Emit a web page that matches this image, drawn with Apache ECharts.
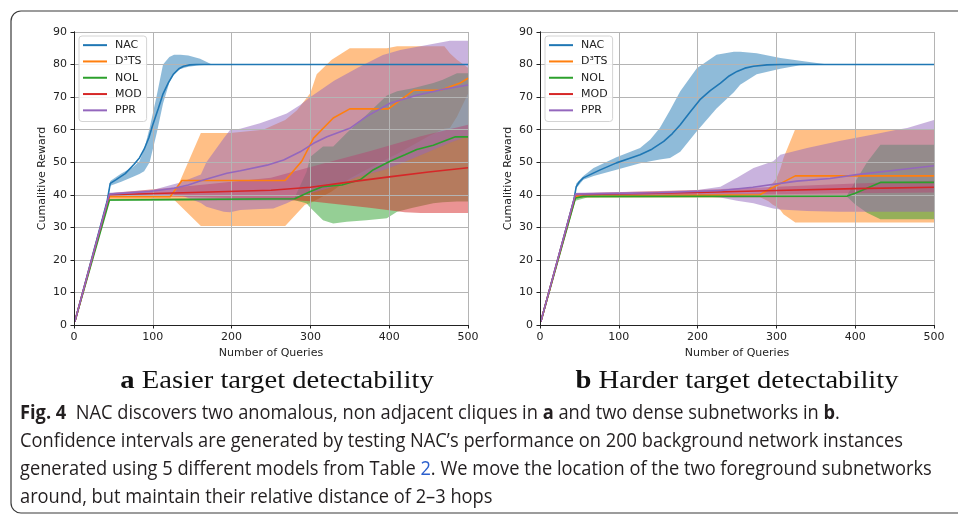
<!DOCTYPE html>
<html>
<head>
<meta charset="utf-8">
<script src="https://cdn.jsdelivr.net/npm/echarts@6.0.0/dist/echarts.min.js"></script>
<style>
  html, body { margin: 0; padding: 0; background: #ffffff; }
  #chart { width: 958px; height: 515px; }
</style>
</head>
<body>
<div id="chart"></div>
<script>
// ---- Series labels, colours and axis ticks ----
const seriesNames = ['NAC', 'D³TS', 'NOL', 'MOD', 'PPR'];
const seriesColors = ['#1f77b4', '#ff7f0e', '#2ca02c', '#d62728', '#9467bd'];
const xTickValues = [0, 100, 200, 300, 400, 500];
const yTickValues = [0, 10, 20, 30, 40, 50, 60, 70, 80, 90];
const xAxisTitle = 'Number of Queries';
const yAxisTitle = 'Cumalitive Reward';

// ---- Panel a: easier target detectability ----
// mean curves: [queries, reward]
const nacEasy = [[1,1],[42,38],[46,43.5],[53,44.6],[65,46.5],[76,49.3],[83,51.3],[89,54],[95,57.5],[100,61.5],[107,66.5],[113,71],[120,74.5],[126,77],[133,78.7],[139,79.5],[147,79.9],[155,80],[500,80]];
const d3tsEasy = [[1,1],[45,39.4],[122,39.4],[137,44.4],[268,44.4],[289,50.3],[304,57.4],[329,63.6],[350,66.4],[399,66.4],[431,72.1],[465,72.1],[490,74.3],[500,75.8]];
const nolEasy = [[1,1],[45,38.4],[280,38.8],[300,41],[315,42.5],[340,43],[363,44.6],[380,47.7],[401,50.3],[420,52.3],[435,53.9],[456,55.2],[470,56.5],[484,57.8],[500,57.8]];
const modEasy = [[1,1],[45,40],[150,40.7],[250,41.4],[300,42.3],[346,43.8],[400,45.5],[450,47],[500,48.3]];
const pprEasy = [[1,1],[45,40.2],[96,41],[127,42],[145,43],[161,44.3],[194,46.6],[211,47.4],[245,49.1],[266,50.7],[287,53.2],[304,55.8],[321,57.8],[350,60.4],[371,64],[401,68.1],[435,70.6],[469,72.4],[500,73.7]];
// confidence bands: [queries, lower, upper]
const nacEasyBand = [[1,1,1],[42,38,38.5],[46,42.8,44.2],[60,44,46.5],[75,45.5,48.5],[83,46.4,50.3],[89,47.2,54],[96,50,60.5],[105,59,70.5],[113,68,80],[121,74.5,82.3],[127,77,83],[135,78.6,83],[145,79.3,82.8],[160,79.8,81.8],[175,80,80],[500,80,80]];
const d3tsEasyBand = [[1,1,1],[45,38.6,39.6],[127,38.5,40],[161,30.4,59],[198,30.4,59],[240,30.4,60],[268,30.4,63],[283,34.3,66],[293,36.9,69],[300,37.5,71.3],[308,38.5,77],[327,41,81.5],[350,45,85],[397,51,85],[410,52.5,85.6],[450,58,85.6],[470,60.3,85.6],[477,60.5,83.5],[486,64,81.5],[500,71,79]];
const nolEasyBand = [[1,1,1],[45,38.1,38.7],[280,38.3,39.2],[295,37.4,47],[300,36,51.7],[316,32.2,54.8],[329,31.2,54.8],[346,31.7,59],[371,32.2,64.5],[397,32.8,70.5],[410,34.8,71.8],[430,36,72.7],[456,37.4,74.3],[468,37.7,75.3],[486,37.9,77.3],[500,37.9,77.3]];
const modEasyBand = [[1,1,1],[45,39.6,40.5],[150,39.3,42.8],[250,38.7,45.2],[300,38,48.5],[375,36,53.4],[420,34.6,56.5],[440,34.4,58],[500,34.4,61.5]];
const pprEasyBand = [[1,1,1],[45,39.8,40.6],[100,40,41.5],[123,39.9,43],[135,39.9,43.8],[161,37.5,46.2],[168,36.3,50],[190,34.8,57.4],[198,34.6,59.9],[211,35.3,60.3],[236,35.6,62],[253,35.8,63.4],[270,37.4,65],[287,39.4,67.6],[300,40.5,70],[330,42.5,75],[360,45.5,79],[392,47.5,82.9],[414,49.5,84.5],[448,53,86],[477,56,87.3],[500,58,87.3]];

// ---- Panel b: harder target detectability ----
const nacHard = [[1,1],[43,38.5],[46,42.5],[50,44],[55,45.2],[75,47.5],[97,49.8],[115,51.3],[127,52.3],[142,54],[157,56.4],[168,58.8],[178,61.5],[190,65.3],[203,69.2],[216,72],[229,74.3],[240,76.5],[250,77.9],[260,78.9],[271,79.5],[288,79.9],[305,80],[500,80]];
const d3tsHard = [[1,1],[45,39.5],[279,40],[300,42.8],[324,45.8],[500,45.8]];
const nolHard = [[1,1],[45,39],[55,39.5],[390,39.6],[400,40.5],[432,43.8],[500,43.8]];
const modHard = [[1,1],[45,40],[200,40.7],[300,41.3],[400,41.9],[500,42.3]];
const pprHard = [[1,1],[45,40.2],[150,40.6],[230,41.3],[270,42.3],[305,43.5],[326,44.2],[368,45],[402,46.2],[453,47.6],[500,48.9]];
const nacHardBand = [[1,1,1],[43,38.5,38.5],[46,42,43.5],[55,44.6,45.8],[68,45.8,48.2],[97,47.7,51.5],[127,49.7,54.4],[140,50.3,57],[152,50.8,60.5],[165,51.3,66],[178,53.2,71.8],[199,59.5,78.9],[224,66.5,83],[246,71.5,83.9],[254,73.8,83.9],[275,77,83.5],[305,78.7,82],[330,79.8,81.2],[356,80,80.3],[365,80,80],[500,80,80]];
const d3tsHardBand = [[1,1,1],[45,39.2,39.9],[280,39.2,40.5],[290,38,42],[295,37,43.5],[300,36.3,45],[305,35.3,48],[309,34,51.3],[324,31.5,60.2],[500,31.5,60.2]];
const nolHardBand = [[1,1,1],[45,38.2,39.3],[60,39.2,39.8],[390,39.3,40],[400,37,44],[415,34.5,50],[432,32.5,55.4],[500,32.5,55.4]];
const modHardBand = [[1,1,1],[45,39.6,40.5],[200,39.9,41.5],[300,40.2,42.5],[400,40.5,43.5],[500,40.7,44.3]];
const pprHardBand = [[1,1,1],[45,39.8,40.6],[150,39.8,41],[200,39.6,41.5],[229,39.2,42.5],[250,38.2,45.2],[271,37.4,48.2],[296,35.8,50.3],[305,35.5,52.3],[339,35,54.4],[380,34.8,56.5],[423,34.8,58.5],[453,34.8,60],[466,34.8,60.5],[500,34.8,63]];

// ---- Subtitles and caption ----
const panelTitles = [['a', 'Easier target detectability'], ['b', 'Harder target detectability']];
const captionLines = [
  '{b|Fig. 4}  NAC discovers two anomalous, non adjacent cliques in {b|a} and two dense subnetworks in {b|b}.',
  'Confidence intervals are generated by testing NAC’s performance on 200 background network instances',
  'generated using 5 different models from Table {l|2}. We move the location of the two foreground subnetworks',
  'around, but maintain their relative distance of 2–3 hops'
];

const panels = [
  { means: [nacEasy, d3tsEasy, nolEasy, modEasy, pprEasy],
    bands: [nacEasyBand, d3tsEasyBand, nolEasyBand, modEasyBand, pprEasyBand] },
  { means: [nacHard, d3tsHard, nolHard, modHard, pprHard],
    bands: [nacHardBand, d3tsHardBand, nolHardBand, modHardBand, pprHardBand] }
];

// ---- Layout ----
const gridBoxes = [
  { left: 74, top: 32, width: 394, height: 293 },
  { left: 540, top: 32, width: 394, height: 293 }
];
const tickFont = 'DejaVu Sans';
const ink = '#222222';

function withAlpha(hex, a) {
  const n = parseInt(hex.slice(1), 16);
  return 'rgba(' + (n >> 16) + ',' + ((n >> 8) & 255) + ',' + (n & 255) + ',' + a + ')';
}

// Filled band between lower and upper curves, placed with the axis scales
function bandSeries(rows, color, axisIdx) {
  return {
    type: 'custom',
    xAxisIndex: axisIdx, yAxisIndex: axisIdx,
    z: 1, silent: true, clip: true,
    data: rows,
    encode: { x: 0, y: [1, 2] },
    renderItem: function (params, api) {
      if (params.dataIndex !== 0) return null;
      const upper = rows.map(r => api.coord([r[0], r[2]]));
      const lower = rows.map(r => api.coord([r[0], r[1]])).reverse();
      return {
        type: 'polygon',
        shape: { points: upper.concat(lower) },
        style: { fill: withAlpha(color, 0.5), stroke: null }
      };
    }
  };
}

function lineSeries(points, name, color, axisIdx) {
  return {
    type: 'line', name: name,
    xAxisIndex: axisIdx, yAxisIndex: axisIdx,
    data: points, showSymbol: false, symbol: 'none',
    z: 3, silent: true,
    lineStyle: { width: 1.6, color: color },
    itemStyle: { color: color }
  };
}

const xAxes = [], yAxes = [], series = [], legends = [];
gridBoxes.forEach((g, gi) => {
  const axisLine = { show: true, lineStyle: { color: ink, width: 1 } };
  xAxes.push({
    type: 'value', gridIndex: gi, position: 'bottom', z: 2,
    min: xTickValues[0], max: xTickValues[xTickValues.length - 1],
    interval: xTickValues[1] - xTickValues[0],
    name: xAxisTitle, nameLocation: 'middle', nameGap: 21,
    nameTextStyle: { fontFamily: tickFont, fontSize: 11, color: ink },
    axisLine: axisLine,
    axisTick: { show: true, length: 3.5, lineStyle: { color: ink } },
    axisLabel: { fontFamily: tickFont, fontSize: 11, color: ink, margin: 7 },
    splitLine: { show: true, lineStyle: { color: '#b4b4b4', width: 1 } }
  });
  xAxes.push({
    type: 'value', gridIndex: gi, position: 'top', z: 4,
    min: xTickValues[0], max: xTickValues[xTickValues.length - 1],
    axisLine: axisLine, axisTick: { show: false }, axisLabel: { show: false }, splitLine: { show: false }
  });
  yAxes.push({
    type: 'value', gridIndex: gi, position: 'left', z: 2,
    min: yTickValues[0], max: yTickValues[yTickValues.length - 1],
    interval: yTickValues[1] - yTickValues[0],
    name: yAxisTitle, nameLocation: 'middle', nameGap: 26,
    nameTextStyle: { fontFamily: tickFont, fontSize: 11, color: ink },
    axisLine: axisLine,
    axisTick: { show: true, length: 3.5, lineStyle: { color: ink } },
    axisLabel: { fontFamily: tickFont, fontSize: 11, color: ink, margin: 7 },
    splitLine: { show: true, lineStyle: { color: '#b4b4b4', width: 1 } }
  });
  yAxes.push({
    type: 'value', gridIndex: gi, position: 'right', z: 4,
    min: yTickValues[0], max: yTickValues[yTickValues.length - 1],
    axisLine: axisLine, axisTick: { show: false }, axisLabel: { show: false }, splitLine: { show: false }
  });

  const axisIdx = gi * 2;
  panels[gi].bands.forEach((b, i) => series.push(bandSeries(b, seriesColors[i], axisIdx)));
  panels[gi].means.forEach((m, i) => series.push(lineSeries(m, seriesNames[i], seriesColors[i], axisIdx)));

  legends.push({
    left: g.left + 5, top: 36, orient: 'vertical',
    data: seriesNames, icon: 'rect', itemWidth: 24, itemHeight: 2, itemGap: 0,
    padding: [1, 5, 3, 4],
    backgroundColor: 'rgba(255,255,255,0.85)',
    borderColor: '#d4d4d4', borderWidth: 1, borderRadius: 3,
    selectedMode: false,
    textStyle: { fontFamily: tickFont, fontSize: 11, color: ink, lineHeight: 16.3, padding: [0, 0, 0, 3] }
  });
});

// ---- Text fitting helpers for the caption block ----
const measureCtx = document.createElement('canvas').getContext('2d');
function textWidth(str, font) { measureCtx.font = font; return measureCtx.measureText(str).width; }
const captionFamily = '"Open Sans", "Noto Sans", sans-serif';
const captionSize = 20;
const captionScale = 883 / textWidth(captionLines[1], captionSize + 'px ' + captionFamily);
const titleFamily = '"Liberation Serif", "DejaVu Serif", serif';
const titleSize = 26;
const titleScale = 312 / textWidth(panelTitles[0][0] + ' ' + panelTitles[0][1], titleSize + 'px ' + titleFamily);

const graphics = [{
  type: 'rect', silent: true, z: 0,
  shape: { x: 11, y: 11, width: 1000, height: 502, r: 10 },
  style: { fill: null, stroke: '#3a3a3a', lineWidth: 1.2 }
}];
const titleCenters = [277, 737];
panelTitles.forEach((t, i) => {
  graphics.push({
    type: 'text', silent: true,
    x: titleCenters[i], y: 381, scaleX: titleScale,
    style: {
      text: '{b|' + t[0] + '} ' + t[1],
      fontFamily: titleFamily, fontSize: titleSize, fill: '#111',
      align: 'center', verticalAlign: 'middle',
      rich: { b: { fontFamily: titleFamily, fontSize: titleSize, fontWeight: 'bold', fill: '#111' } }
    }
  });
});
const captionTops = [413, 441, 469, 497];
captionLines.forEach((line, i) => {
  graphics.push({
    type: 'text', silent: true,
    x: 20, y: captionTops[i], scaleX: captionScale,
    style: {
      text: line,
      fontFamily: captionFamily, fontSize: captionSize, fill: '#231f20',
      align: 'left', verticalAlign: 'middle',
      rich: {
        b: { fontFamily: captionFamily, fontSize: captionSize, fontWeight: 'bold', fill: '#231f20' },
        l: { fontFamily: captionFamily, fontSize: captionSize, fill: '#2b5fcc' }
      }
    }
  });
});

const chart = echarts.init(document.getElementById('chart'), null, { renderer: 'canvas' });
chart.setOption({
  animation: false,
  backgroundColor: '#ffffff',
  grid: gridBoxes.map(g => Object.assign({ containLabel: false }, g)),
  xAxis: xAxes,
  yAxis: yAxes,
  legend: legends,
  series: series,
  graphic: graphics
});
</script>
</body>
</html>
